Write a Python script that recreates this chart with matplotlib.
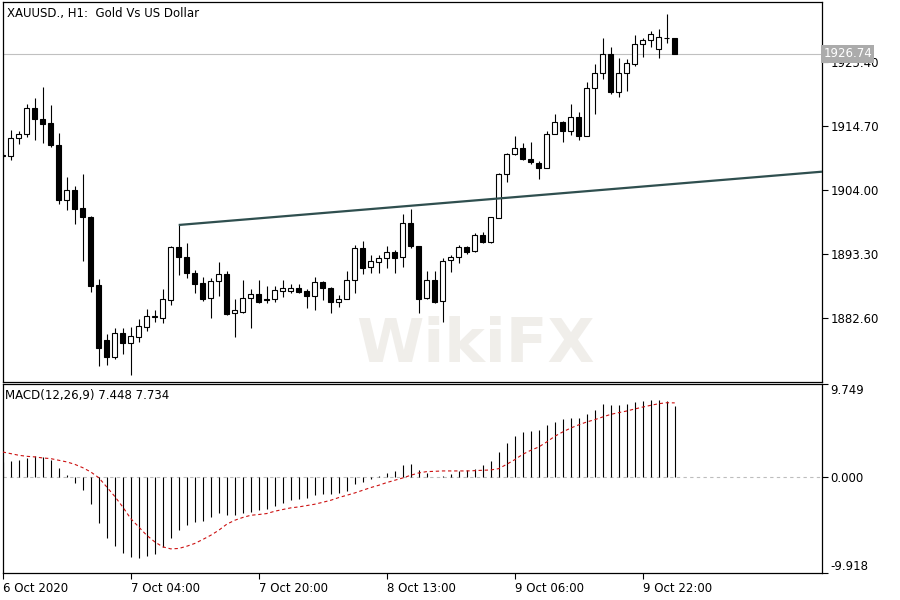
import matplotlib
matplotlib.use('Agg')
import matplotlib.pyplot as plt
import matplotlib.transforms as mtransforms
import numpy as np

plt.rcParams['font.family'] = ['DejaVu Sans']

# ---------------- data ----------------
title = 'XAUUSD., H1:  Gold Vs US Dollar'
macd_title = 'MACD(12,26,9) 7.448 7.734'

opens = [1909.77, 1909.73, 1912.64, 1913.31, 1917.66, 1915.87, 1915.20, 1911.52, 1902.28, 1904.00,
         1901.04, 1899.53, 1888.12, 1878.92, 1876.13, 1880.04, 1878.47, 1879.47, 1881.14, 1882.81,
         1882.65, 1885.61, 1894.42, 1892.85, 1890.17, 1888.50, 1885.89, 1888.73, 1889.90, 1883.38,
         1883.65, 1885.89, 1886.56, 1885.77, 1885.72, 1887.16, 1887.16, 1887.56, 1887.11, 1886.33,
         1888.62, 1887.66, 1885.32, 1885.72, 1888.95, 1894.25, 1891.07, 1892.01, 1892.58, 1893.58,
         1892.75, 1898.43, 1894.64, 1885.89, 1888.95, 1885.44, 1892.30, 1892.75, 1894.42, 1893.85,
         1896.43, 1895.35, 1899.37, 1906.67, 1909.97, 1910.97, 1909.18, 1908.46, 1907.73, 1913.31,
         1915.32, 1913.91, 1916.15, 1913.08, 1921.00, 1923.51, 1926.69, 1920.43, 1923.51, 1925.07,
         1928.36, 1929.03, 1927.52, 1929.45, 1929.36]
highs = [1910.35, 1914.03, 1913.91, 1918.33, 1919.43, 1921.27, 1918.21, 1913.48, 1906.12, 1904.67,
         1906.67, 1899.65, 1889.12, 1879.87, 1880.88, 1880.88, 1881.14, 1882.38, 1884.05, 1883.94,
         1887.45, 1894.64, 1898.15, 1895.09, 1890.62, 1889.50, 1889.24, 1892.01, 1890.46, 1885.77,
         1888.95, 1887.40, 1888.95, 1887.95, 1888.00, 1888.95, 1888.28, 1888.28, 1887.45, 1889.40,
         1888.82, 1887.83, 1886.44, 1890.51, 1894.80, 1895.47, 1893.13, 1893.13, 1894.64, 1893.97,
         1899.94, 1900.77, 1894.64, 1890.51, 1890.51, 1892.68, 1893.13, 1894.80, 1894.69, 1896.86,
         1896.93, 1899.43, 1906.79, 1910.24, 1913.03, 1911.91, 1912.07, 1908.85, 1913.86, 1916.71,
         1915.54, 1918.38, 1916.99, 1922.01, 1925.02, 1929.46, 1927.86, 1926.02, 1925.90, 1929.92,
         1929.46, 1930.63, 1930.87, 1933.43, 1929.36]
lows = [1909.35, 1909.01, 1911.64, 1912.81, 1912.36, 1911.91, 1911.24, 1901.71, 1900.71, 1898.31,
        1892.13, 1886.89, 1874.62, 1874.74, 1875.79, 1876.58, 1873.07, 1878.64, 1880.47, 1881.98,
        1881.71, 1884.77, 1889.79, 1889.34, 1886.73, 1885.49, 1882.65, 1886.28, 1883.15, 1879.37,
        1883.48, 1880.88, 1885.06, 1885.06, 1885.32, 1886.16, 1886.83, 1886.73, 1884.32, 1883.89,
        1885.66, 1883.38, 1884.49, 1885.72, 1886.83, 1890.00, 1890.17, 1890.17, 1891.01, 1890.17,
        1891.18, 1894.25, 1883.38, 1885.72, 1885.06, 1881.98, 1890.34, 1891.84, 1893.30, 1893.68,
        1895.09, 1895.09, 1899.37, 1905.39, 1909.85, 1909.01, 1908.35, 1905.79, 1907.73, 1913.31,
        1911.97, 1913.20, 1912.36, 1913.08, 1916.76, 1922.51, 1920.00, 1919.60, 1920.60, 1924.73,
        1926.29, 1927.96, 1926.12, 1928.53, 1926.74]
closes = [1909.70, 1912.64, 1913.36, 1917.66, 1915.82, 1915.08, 1911.57, 1902.28, 1904.00, 1900.87,
          1899.53, 1888.00, 1877.63, 1876.13, 1880.04, 1878.47, 1879.59, 1881.26, 1882.93, 1882.93,
          1885.77, 1894.42, 1892.85, 1890.07, 1888.28, 1885.72, 1888.78, 1889.90, 1883.27, 1883.89,
          1885.89, 1886.56, 1885.32, 1885.56, 1887.28, 1887.56, 1887.56, 1886.94, 1886.33, 1888.57,
          1887.53, 1885.32, 1885.74, 1888.95, 1894.25, 1891.01, 1892.13, 1892.58, 1893.58, 1892.68,
          1898.43, 1894.69, 1885.72, 1888.95, 1885.32, 1892.13, 1892.75, 1894.42, 1893.58, 1896.43,
          1895.35, 1899.43, 1906.67, 1910.02, 1910.97, 1909.18, 1908.63, 1907.73, 1913.36, 1915.32,
          1913.91, 1916.15, 1913.08, 1921.00, 1923.51, 1926.69, 1920.33, 1923.51, 1925.18, 1928.36,
          1929.08, 1930.03, 1929.53, 1929.36, 1926.74]

macd_main = [1.60, 1.70, 1.77, 2.04, 2.18, 2.11, 1.83, 0.93, 0.21, -0.59,
             -1.35, -2.80, -4.74, -6.30, -7.13, -7.86, -8.27, -8.38, -8.20, -7.93,
             -7.23, -6.27, -5.50, -4.98, -4.64, -4.57, -4.12, -3.70, -3.95, -3.95,
             -3.70, -3.60, -3.36, -3.25, -3.01, -2.63, -2.32, -2.22, -2.11, -1.87,
             -1.70, -1.70, -1.63, -1.42, -0.73, -0.48, -0.21, 0.10, 0.48, 0.66,
             1.25, 1.35, 0.73, 0.45, 0.03, 0.14, 0.38, 0.66, 0.80, 0.90,
             1.25, 1.66, 2.63, 3.57, 4.26, 4.71, 4.81, 4.95, 5.40, 5.75,
             6.02, 6.20, 6.20, 6.54, 7.03, 7.58, 7.48, 7.48, 7.58, 7.79,
             7.93, 8.07, 8.00, 7.89, 7.448]
macd_signal = [2.63, 2.46, 2.29, 2.18, 2.12, 2.01, 1.94, 1.77, 1.60, 1.35,
               1.00, 0.56, -0.04, -1.00, -1.98, -3.08, -4.29, -5.16, -6.03, -6.71,
               -7.23, -7.44, -7.40, -7.17, -6.88, -6.47, -6.03, -5.51, -4.88, -4.47,
               -4.18, -3.95, -3.87, -3.77, -3.53, -3.35, -3.18, -3.08, -2.94, -2.80,
               -2.60, -2.39, -2.11, -1.87, -1.63, -1.35, -1.07, -0.83, -0.55, -0.31,
               -0.07, 0.21, 0.45, 0.59, 0.62, 0.66, 0.66, 0.66, 0.66, 0.69,
               0.73, 0.76, 0.90, 1.35, 1.83, 2.39, 2.80, 3.15, 3.67, 4.26,
               4.71, 5.12, 5.45, 5.75, 5.99, 6.27, 6.54, 6.72, 6.89, 7.10,
               7.30, 7.48, 7.65, 7.75, 7.734]

trend_bars = [22, 84]
trend_prices = [1898.15, 1905.02]
current_price = 1926.74

price_ticks = [1882.60, 1893.30, 1904.00, 1914.70, 1925.40]
macd_ticks = [-9.918, 0.0, 9.749]
date_tick_bars = [0, 16, 32, 48, 64, 80]
date_labels = ['6 Oct 2020', '7 Oct 04:00', '7 Oct 20:00', '8 Oct 13:00', '9 Oct 06:00', '9 Oct 22:00']

# ---------------- layout ----------------
W, H = 900, 600
fig = plt.figure(figsize=(9, 6), dpi=100)
fig.patch.set_facecolor('white')

def rect(l, t, r, b):
    return [l / W, 1 - b / H, (r - l) / W, (b - t) / H]

ax = fig.add_axes(rect(2.5, 2, 822, 381.5))
ax2 = fig.add_axes(rect(2.5, 383.5, 822, 572.7))

xlim = (-0.025, 102.41)
FS = 8.5

# ---------------- candles ----------------
x = np.arange(len(opens))
o = np.array(opens); h = np.array(highs); l = np.array(lows); c = np.array(closes)
up = c >= o
ax.vlines(x, l, h, color='black', lw=0.8, zorder=3)
bottoms = np.minimum(o, c)
heights = np.maximum(np.abs(c - o), 0.12)
ax.bar(x, heights, bottom=bottoms, width=0.6,
       color=np.where(up, 'white', 'black'), edgecolor='black', linewidth=0.8, zorder=4)

# trend line (ray)
slope = (trend_prices[1] - trend_prices[0]) / (trend_bars[1] - trend_bars[0])
tx = np.array([trend_bars[0], xlim[1]])
ty = trend_prices[0] + slope * (tx - trend_bars[0])
ax.plot(tx, ty, color='#2F4F4F', lw=1.6, zorder=5, solid_capstyle='butt')

# current price line + label
ax.axhline(current_price, color='#C0C0C0', lw=0.8, zorder=1)
trans = mtransforms.blended_transform_factory(ax.transAxes, ax.transData)
ax.text(1.0018, current_price, f'{current_price:.2f}', transform=trans, color='white',
        fontsize=FS, va='center', ha='left', clip_on=False, zorder=20,
        bbox=dict(boxstyle='square,pad=0.18', fc='#ABABAB', ec='none'))

ax.set_xlim(*xlim)
ax.set_ylim(1871.98, 1935.43)
ax.yaxis.tick_right()
ax.set_yticks(price_ticks)
ax.set_yticklabels([f'{v:.2f}' for v in price_ticks])
ax.set_xticks([])
ax.tick_params(axis='y', direction='out', length=4, width=0.8, pad=2, labelsize=FS, colors='black')
for s in ax.spines.values():
    s.set_linewidth(0.9)
    s.set_color('black')

# ---------------- MACD ----------------
ax2.axhline(0, color='#BDBDBD', lw=0.8, ls=(0, (3, 3)), zorder=1)
ax2.vlines(x, 0, macd_main, color='black', lw=0.8, zorder=3)
ax2.plot(x, macd_signal, color='#CC1111', lw=0.8, ls=(0, (3, 2.5)), zorder=4)
ax2.set_xlim(*xlim)
ax2.set_ylim(macd_ticks[0], macd_ticks[-1])
ax2.yaxis.tick_right()
ax2.set_yticks(macd_ticks)
ax2.set_yticklabels([f'{v:.3f}' for v in macd_ticks])
ax2.tick_params(axis='y', direction='out', length=4, width=0.8, pad=2, labelsize=FS)
yt = ax2.yaxis.get_major_ticks()
yt[0].label2.set_va('bottom')
yt[-1].label2.set_va('top')
ax2.set_xticks(date_tick_bars)
ax2.set_xticklabels(date_labels)
ax2.tick_params(axis='x', direction='out', length=4, width=0.8, pad=3, labelsize=FS)
for lbl in ax2.get_xticklabels():
    lbl.set_ha('left')
for s in ax2.spines.values():
    s.set_linewidth(0.9)
    s.set_color('black')

# ---------------- texts ----------------
fig.text(7 / W, 1 - 13.5 / H, title, fontsize=FS, va='center', ha='left')
fig.text(5 / W, 1 - 396 / H, macd_title, fontsize=FS, va='center', ha='left')

# faint watermark
fig.text(475 / W, 1 - 345 / H, 'WikiFX', fontsize=44, fontweight='bold', color='#CFC8BC',
         alpha=0.3, ha='center', va='center', zorder=30)

fig.savefig('out.png', dpi=100, facecolor='white')
